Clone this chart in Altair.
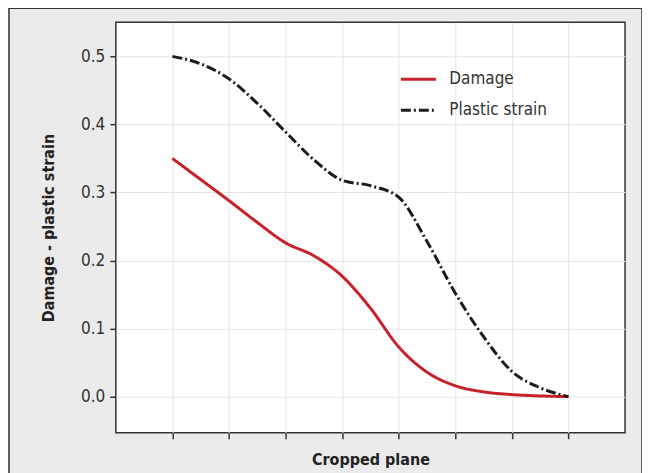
import altair as alt
import pandas as pd

# Data
x_pos = [0, 0.5, 1, 1.5, 2, 2.5, 3, 3.5, 4, 4.5, 5, 5.5, 6, 6.5, 7]
damage = [0.350, 0.319, 0.288, 0.256, 0.226, 0.207, 0.177, 0.130, 0.073, 0.036, 0.016, 0.007, 0.003, 0.001, 0.0]
plastic = [0.500, 0.489, 0.467, 0.431, 0.389, 0.348, 0.318, 0.310, 0.293, 0.228, 0.152, 0.088, 0.037, 0.013, 0.0]
series_names = ["Damage", "Plastic strain"]
y_ticks = [0.0, 0.1, 0.2, 0.3, 0.4, 0.5]
x_ticks = [0, 1, 2, 3, 4, 5, 6, 7]

rows = []
for xv, d, p in zip(x_pos, damage, plastic):
    rows.append({"x": xv, "value": d, "series": series_names[0]})
    rows.append({"x": xv, "value": p, "series": series_names[1]})
df = pd.DataFrame(rows)

FONT = "Liberation Sans Narrow, DejaVu Sans Condensed, Roboto, sans-serif"

W, H = 510, 411

legend = alt.Legend(title=None, orient="none", legendX=284, legendY=38,
                    symbolType="stroke", symbolSize=1225,
                    symbolStrokeWidth=3, labelFontSize=17,
                    labelColor="#333", labelFont=FONT,
                    rowPadding=4, labelOffset=12)

lines = alt.Chart(df).mark_line(strokeWidth=3, interpolate="monotone").encode(
    x=alt.X("x:Q",
            scale=alt.Scale(domain=[-1, 8], nice=False, zero=False),
            axis=alt.Axis(values=x_ticks, labels=False, title="Cropped plane",
                          domain=False, tickColor="#333", tickWidth=1.5, tickSize=6,
                          gridColor="#e4e4e4", titlePadding=12)),
    y=alt.Y("value:Q",
            scale=alt.Scale(domain=[-0.053, 0.55], nice=False, zero=False),
            axis=alt.Axis(values=y_ticks, format=".1f", title="Damage - plastic strain",
                          domain=False, tickColor="#333", tickWidth=1.5, tickSize=6,
                          gridColor="#e4e4e4", labelPadding=5, titlePadding=24)),
    color=alt.Color("series:N",
                    scale=alt.Scale(domain=series_names, range=["#c8202b", "#1c1c1c"]),
                    legend=legend),
    strokeDash=alt.StrokeDash("series:N",
                              scale=alt.Scale(domain=series_names, range=[[1, 0], [10, 3, 2, 3]]),
                              legend=legend),
)

frame = alt.Chart(pd.DataFrame({"a": [0]})).mark_rect(
    filled=False, stroke="#333", strokeWidth=1.5
).encode(
    x=alt.value(-107), x2=alt.value(527), y=alt.value(-14), y2=alt.value(470)
)

chart = alt.layer(frame, lines).properties(
    width=W, height=H,
    background="#ebebeb",
    padding={"left": 108, "top": 14, "right": 17, "bottom": 40},
    autosize=alt.AutoSizeParams(type="none"),
).configure_view(
    stroke="#333", strokeWidth=1.5, fill="white"
).configure_axis(
    labelFont=FONT, titleFont=FONT, labelFontSize=17, labelColor="#333",
    titleFontSize=16, titleFontWeight="bold", titleColor="#222",
)

chart.save("out.html", embed_options={"renderer": "svg", "actions": False})
